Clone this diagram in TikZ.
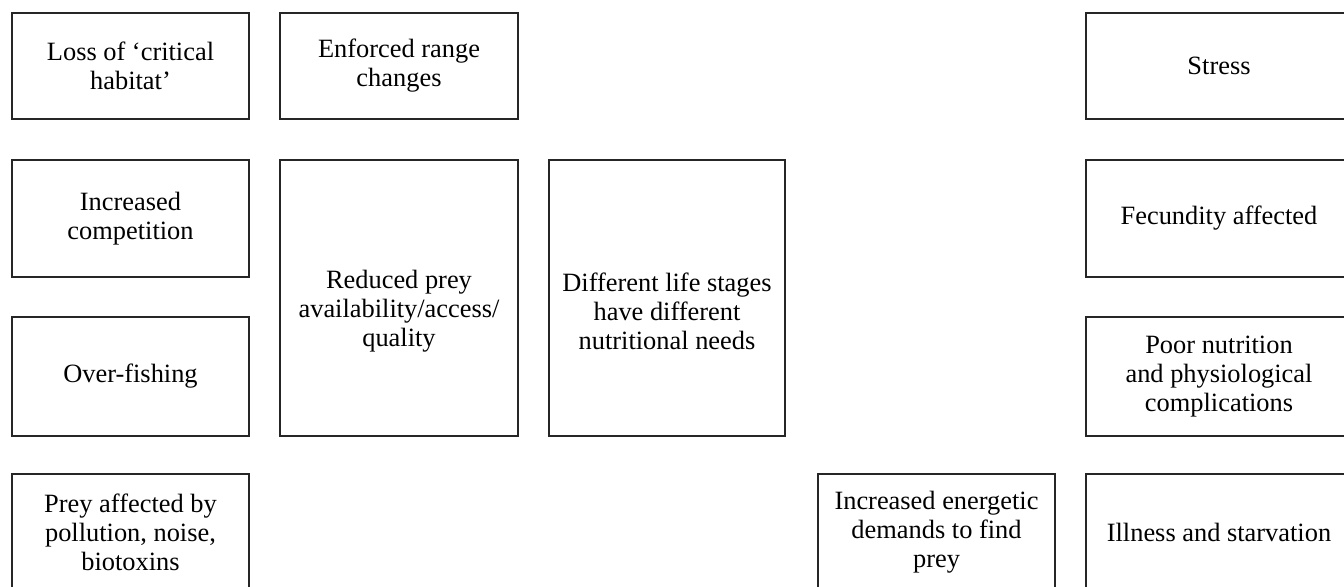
\documentclass[tikz,border=0pt]{standalone}
\usepackage{fontspec}
\setmainfont{Liberation Serif}
\begin{document}
\begin{tikzpicture}[x=0.75pt,y=-0.75pt,
  txt/.style={align=center, font=\fontsize{19.8}{21.8}\selectfont, inner sep=0pt},
  box/.style={txt, draw=black!85, line width=1.8pt, fill=white}]
\useasboundingbox (0,0) rectangle (1344,586);
\clip (0,0) rectangle (1344,586);
% row 1
\node[box, minimum width=237*0.75pt, minimum height=106*0.75pt] (habitat) at (130.5,66) {Loss of ‘critical\\habitat’};
\node[box, minimum width=238*0.75pt, minimum height=106*0.75pt] (range) at (399,66) {Enforced range\\changes};
\node[box, minimum width=266*0.75pt, minimum height=106*0.75pt] (stress) at (1219,66) {Stress};
% row 2
\node[box, minimum width=237*0.75pt, minimum height=117*0.75pt] (competition) at (130.5,218.5) {Increased\\competition};
\node[box, minimum width=238*0.75pt, minimum height=276*0.75pt] (prey) at (399,298) {};
\node[txt] (preytext) at ([yshift=-13*0.75pt]prey.center) {Reduced prey\\availability/access/\\quality};
\node[box, minimum width=236*0.75pt, minimum height=276*0.75pt] (stages) at (667,298) {};
\node[txt] (stagestext) at ([yshift=-13*0.75pt]stages.center) {Different life stages\\have different\\nutritional needs};
\node[box, minimum width=266*0.75pt, minimum height=117*0.75pt] (fecundity) at (1219,218.5) {Fecundity affected};
% row 3
\node[box, minimum width=237*0.75pt, minimum height=119*0.75pt] (fishing) at (130.5,376.5) {Over-fishing};
\node[box, minimum width=266*0.75pt, minimum height=119*0.75pt] (nutrition) at (1219,376.5) {Poor nutrition\\and physiological\\complications};
% row 4
\node[box, minimum width=237*0.75pt, minimum height=116*0.75pt] (pollution) at (130.5,532) {Prey affected by\\pollution, noise,\\biotoxins};
\node[box, minimum width=237*0.75pt, minimum height=116*0.75pt] (energy) at (936.5,532) {Increased energetic\\demands to find\\prey};
\node[box, minimum width=266*0.75pt, minimum height=116*0.75pt] (illness) at (1219,532) {Illness and starvation};
\end{tikzpicture}
\end{document}
